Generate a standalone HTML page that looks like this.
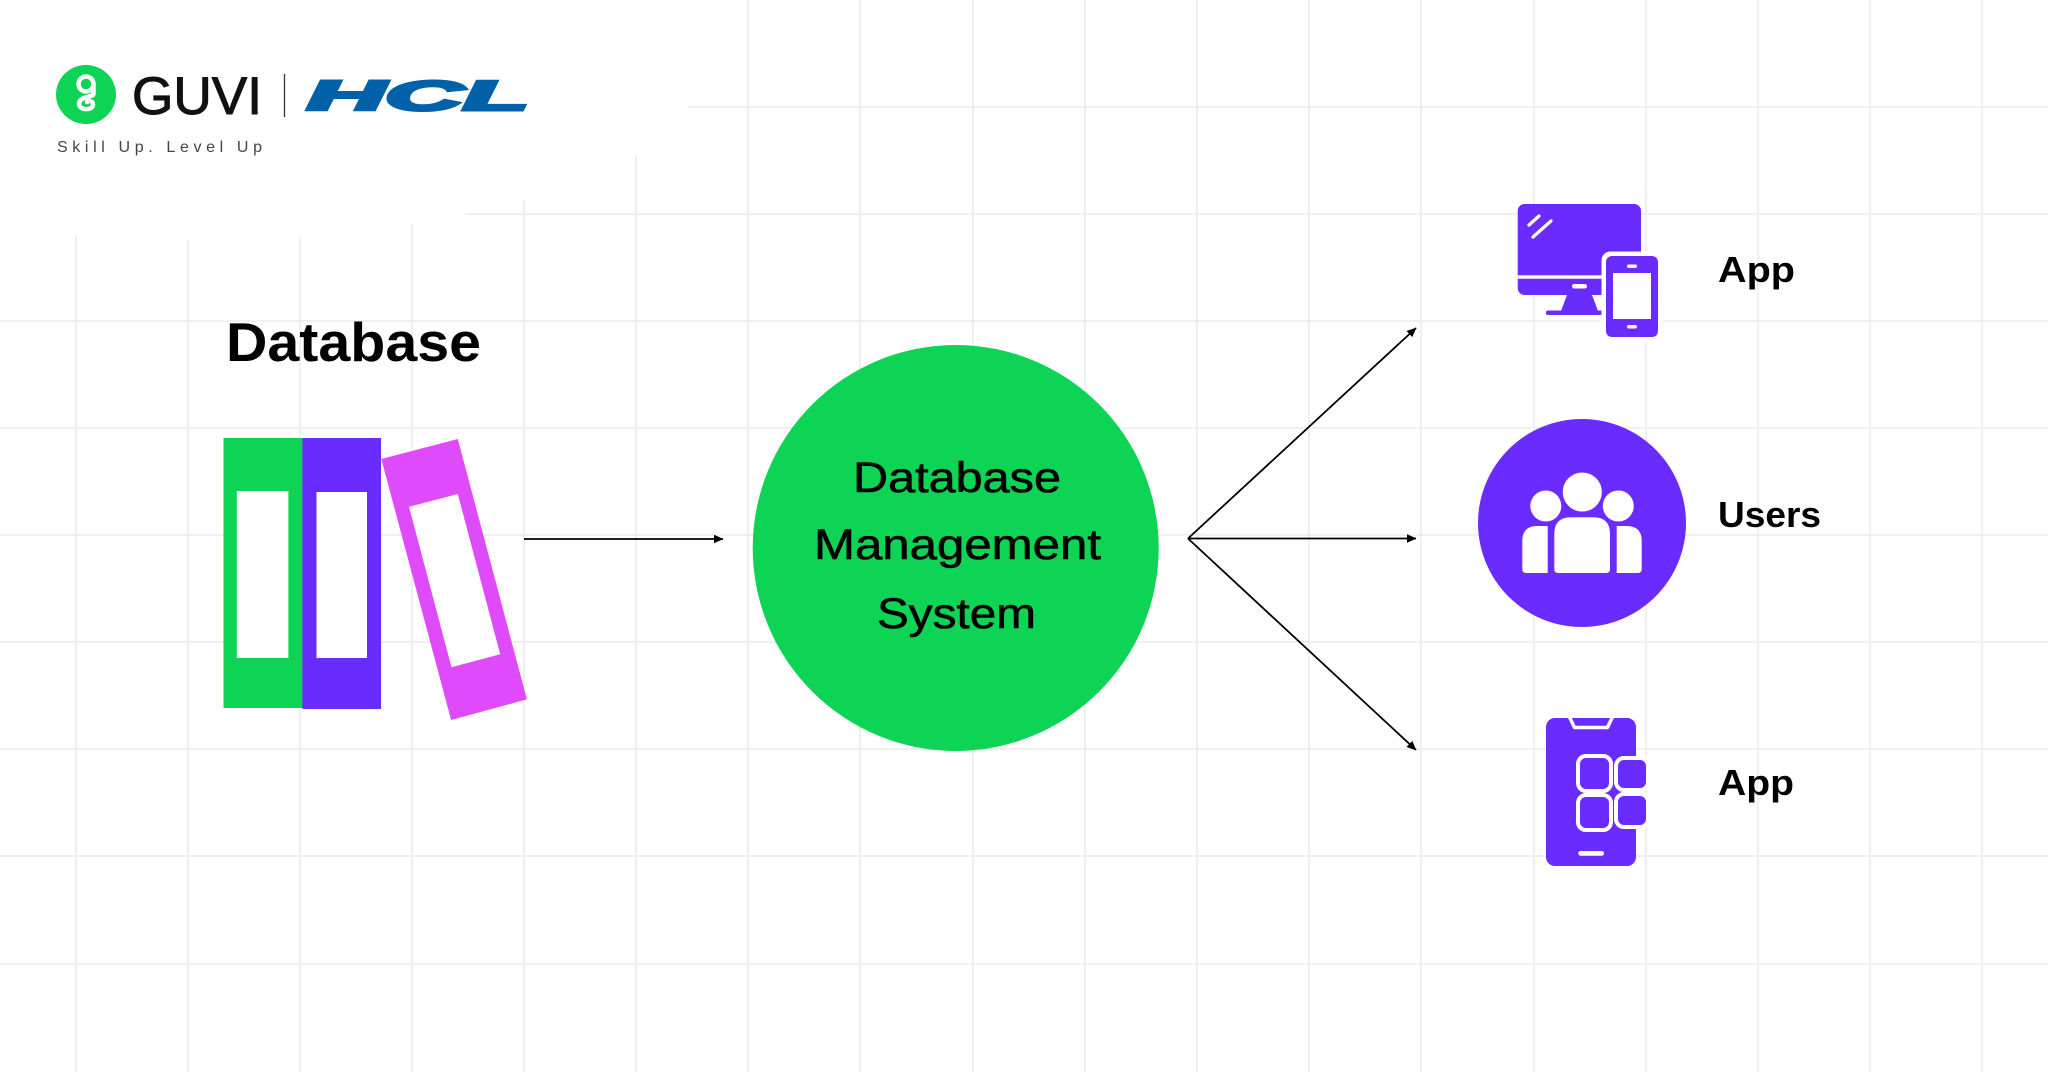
<!DOCTYPE html>
<html>
<head>
<meta charset="utf-8">
<style>
  html,body{margin:0;padding:0;background:#fff;}
  body{width:2048px;height:1075px;overflow:hidden;}
  svg{display:block;}
  text{font-family:"Liberation Sans",Arial,sans-serif;}
</style>
</head>
<body>
<svg width="2048" height="1075" viewBox="0 0 2048 1075" xmlns="http://www.w3.org/2000/svg">
  <defs>
    <marker id="ah" markerWidth="10" markerHeight="10" refX="9" refY="5" orient="auto" markerUnits="userSpaceOnUse">
      <path d="M0,0.8 L9.5,5 L0,9.2 Z" fill="#000"/>
    </marker>
  </defs>
  <rect width="2048" height="1075" fill="#ffffff"/>

  <!-- grid -->
  <g stroke="#ececec" stroke-width="1.5">
    <line x1="688" y1="107" x2="2048" y2="107"/>
    <line x1="465" y1="214" x2="2048" y2="214"/>
    <line x1="0" y1="321" x2="2048" y2="321"/>
    <line x1="0" y1="428" x2="2048" y2="428"/>
    <line x1="0" y1="535" x2="2048" y2="535"/>
    <line x1="0" y1="642" x2="2048" y2="642"/>
    <line x1="0" y1="749" x2="2048" y2="749"/>
    <line x1="0" y1="856" x2="2048" y2="856"/>
    <line x1="0" y1="964" x2="2048" y2="964"/>
    <line x1="76" y1="235" x2="76" y2="1072"/>
    <line x1="188" y1="240" x2="188" y2="1072"/>
    <line x1="300" y1="237" x2="300" y2="1072"/>
    <line x1="412" y1="224" x2="412" y2="1072"/>
    <line x1="524" y1="200" x2="524" y2="1072"/>
    <line x1="636" y1="155" x2="636" y2="1072"/>
    <line x1="748" y1="0" x2="748" y2="1072"/>
    <line x1="860" y1="0" x2="860" y2="1072"/>
    <line x1="973" y1="0" x2="973" y2="1072"/>
    <line x1="1085" y1="0" x2="1085" y2="1072"/>
    <line x1="1197" y1="0" x2="1197" y2="1072"/>
    <line x1="1309" y1="0" x2="1309" y2="1072"/>
    <line x1="1421" y1="0" x2="1421" y2="1072"/>
    <line x1="1534" y1="0" x2="1534" y2="1072"/>
    <line x1="1646" y1="0" x2="1646" y2="1072"/>
    <line x1="1758" y1="0" x2="1758" y2="1072"/>
    <line x1="1870" y1="0" x2="1870" y2="1072"/>
    <line x1="1982" y1="0" x2="1982" y2="1072"/>
  </g>

  <!-- Logo -->
  <ellipse cx="86" cy="94.5" rx="30" ry="29.5" fill="#0dd454"/>
  <g fill="none" stroke="#fff" stroke-width="4.5" stroke-linecap="round" stroke-linejoin="round">
    <circle cx="86" cy="84" r="7.5"/>
    <path d="M93.5,84 V94 C93.5,97.5 79,96 79,104 C79,110.5 93,111 93,104.5 C93,101 89,100 87,102"/>
  </g>
  <text x="132" y="114" font-size="53" fill="#111" stroke="#111" stroke-width="1" textLength="130" lengthAdjust="spacingAndGlyphs">GUVI</text>
  <line x1="284.5" y1="74" x2="284.5" y2="117" stroke="#333" stroke-width="1.3"/>
  <text x="307" y="110" font-size="42" font-weight="bold" font-style="italic" fill="#0061a8" stroke="#0061a8" stroke-width="3" stroke-linejoin="miter" textLength="222" lengthAdjust="spacingAndGlyphs">HCL</text>
  <text x="57" y="152" font-size="16" fill="#444" textLength="205" lengthAdjust="spacing">Skill Up. Level Up</text>

  <!-- Database title -->
  <text x="226" y="361" font-size="55" font-weight="bold" fill="#000" textLength="255" lengthAdjust="spacingAndGlyphs">Database</text>

  <!-- Books -->
  <rect x="223.5" y="438" width="79" height="270" fill="#0dd454"/>
  <rect x="236.8" y="491" width="51.6" height="167" fill="#fff"/>
  <rect x="302.4" y="438" width="78.6" height="271" fill="#6a2bfe"/>
  <rect x="316.5" y="492" width="50.5" height="166" fill="#fff"/>
  <polygon points="381.3,459 457.8,439 526.9,699.3 451.1,720" fill="#df4afa"/>
  <polygon points="409,506.7 457.8,494 500.2,654.3 451.5,667.3" fill="#fff"/>

  <!-- Left arrow -->
  <line x1="524" y1="539" x2="723" y2="539" stroke="#000" stroke-width="1.8" marker-end="url(#ah)"/>

  <!-- Center circle -->
  <circle cx="955.7" cy="548" r="203" fill="#0dd454"/>
  <g fill="#000" stroke="#000" stroke-width="0.6">
    <text x="853" y="492" font-size="43" textLength="208" lengthAdjust="spacingAndGlyphs">Database</text>
    <text x="814" y="559" font-size="43" textLength="287" lengthAdjust="spacingAndGlyphs">Management</text>
    <text x="877" y="628" font-size="43" textLength="159" lengthAdjust="spacingAndGlyphs">System</text>
  </g>

  <!-- Fan arrows -->
  <g stroke="#000" stroke-width="1.8" fill="none">
    <line x1="1188" y1="538.5" x2="1416" y2="328" marker-end="url(#ah)"/>
    <line x1="1188" y1="538.5" x2="1416" y2="538.5" marker-end="url(#ah)"/>
    <line x1="1188" y1="538.5" x2="1416" y2="750" marker-end="url(#ah)"/>
  </g>

  <!-- Monitor + phone icon -->
  <rect x="1517.7" y="204" width="123.3" height="91" rx="7" fill="#6a2bfe"/>
  <rect x="1517.7" y="275.3" width="123.3" height="3.4" fill="#fff"/>
  <rect x="1572" y="284" width="15" height="4.5" rx="2.2" fill="#fff"/>
  <g stroke="#fff" stroke-width="3.2" stroke-linecap="round">
    <line x1="1529" y1="225" x2="1539" y2="216"/>
    <line x1="1533" y1="237" x2="1551" y2="221"/>
  </g>
  <polygon points="1567,295 1592,295 1598,311 1561,311" fill="#6a2bfe"/>
  <rect x="1546" y="310.5" width="56" height="4.5" rx="2" fill="#6a2bfe"/>
  <rect x="1601.5" y="251.5" width="61" height="90" rx="9" fill="#fff"/>
  <rect x="1606" y="256" width="52" height="81" rx="6" fill="#6a2bfe"/>
  <rect x="1613" y="273" width="38" height="46" fill="#fff"/>
  <rect x="1627" y="264.5" width="10" height="3.5" rx="1.7" fill="#fff"/>
  <rect x="1627" y="325" width="10" height="3.5" rx="1.7" fill="#fff"/>

  <!-- Users icon -->
  <circle cx="1582" cy="523" r="104" fill="#6a2bfe"/>
  <g fill="#fff">
    <circle cx="1545.8" cy="506" r="15.5"/>
    <circle cx="1618.3" cy="506" r="15.5"/>
    <circle cx="1582.3" cy="492" r="20.8" stroke="#6a2bfe" stroke-width="2.5"/>
    <path d="M1554.3,573 V534 Q1554.3,517.3 1571,517.3 H1593.3 Q1610,517.3 1610,534 V569 Q1610,573 1606,573 H1558.3 Q1554.3,573 1554.3,569 Z"/>
    <path d="M1547.7,526 V573 H1526.3 Q1522.3,573 1522.3,569 V541 Q1522.3,526 1537.3,526 Z"/>
    <path d="M1616.7,526 V573 H1637.7 Q1641.7,573 1641.7,569 V541 Q1641.7,526 1626.7,526 Z"/>
  </g>

  <!-- App phone icon -->
  <rect x="1546" y="718" width="90" height="148" rx="9" fill="#6a2bfe"/>
  <polyline points="1569.5,717 1574.5,727.5 1607.5,727.5 1612.5,717" fill="none" stroke="#fff" stroke-width="3.5" stroke-linejoin="round"/>
  <rect x="1578.3" y="851" width="25.7" height="4.7" rx="2.3" fill="#fff"/>
  <g fill="#6a2bfe" stroke="#fff" stroke-width="4">
    <rect x="1578" y="756" width="33" height="35" rx="8"/>
    <rect x="1616" y="758" width="32" height="32" rx="8"/>
    <rect x="1578" y="795" width="33" height="35" rx="8"/>
    <rect x="1616" y="794" width="32" height="33" rx="8"/>
  </g>

  <!-- Right labels -->
  <g font-size="36" font-weight="bold" fill="#000">
    <text x="1718" y="282" textLength="77" lengthAdjust="spacingAndGlyphs">App</text>
    <text x="1718" y="527" textLength="103" lengthAdjust="spacingAndGlyphs">Users</text>
    <text x="1718" y="795" textLength="76" lengthAdjust="spacingAndGlyphs">App</text>
  </g>
</svg>
</body>
</html>
